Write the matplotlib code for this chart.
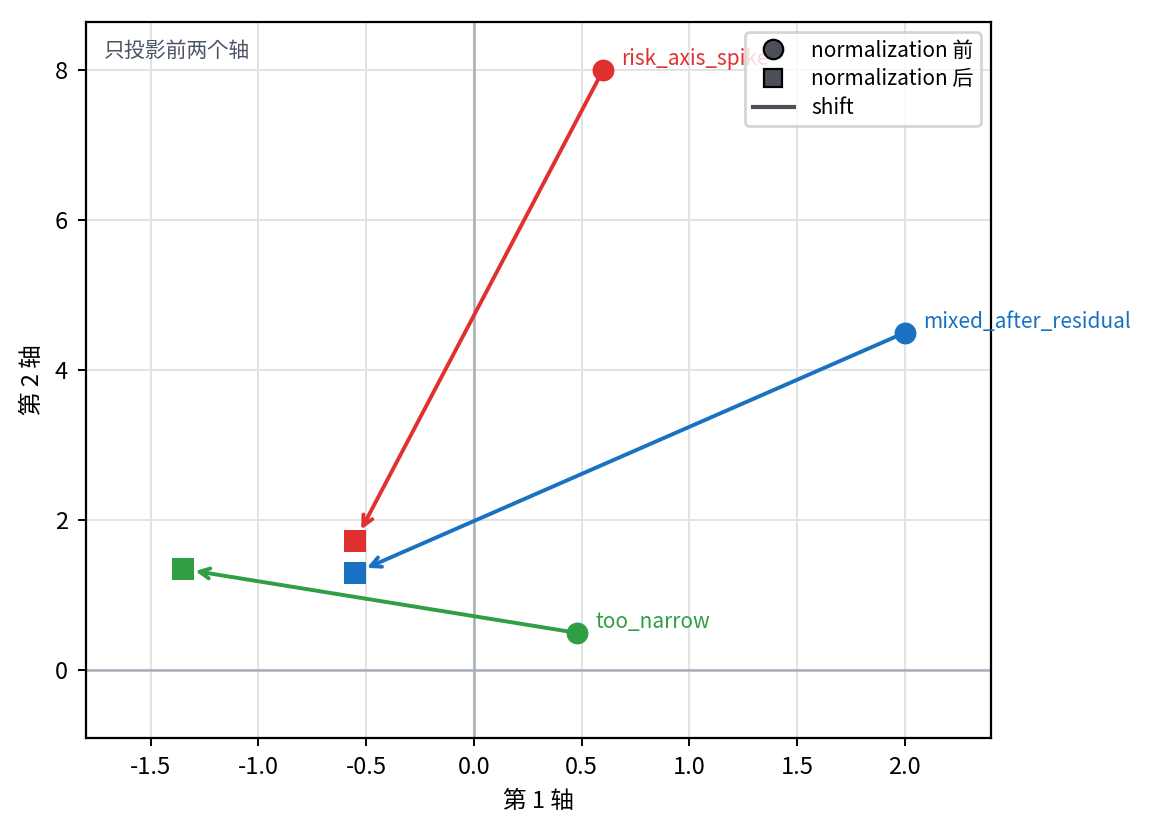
import matplotlib
matplotlib.use("Agg")
import matplotlib.pyplot as plt
from matplotlib.lines import Line2D

plt.rcParams['font.family'] = ['Noto Sans CJK JP', 'DejaVu Sans']
plt.rcParams['axes.unicode_minus'] = False

names = ["risk_axis_spike", "mixed_after_residual", "too_narrow"]
colors = ["#e03131", "#1971c2", "#2f9e44"]
before_x = [0.60, 2.00, 0.48]
before_y = [8.00, 4.50, 0.50]
after_x = [-0.55, -0.55, -1.35]
after_y = [1.73, 1.30, 1.35]

fig = plt.figure(figsize=(5.76, 4.16), dpi=200)
ax = fig.add_axes([0.0747, 0.113, 0.7855, 0.8606])

ax.grid(True, color="#e3e3e3", linewidth=0.7)
ax.axhline(0, color="#a7b0bb", linewidth=0.9, zorder=2)
ax.axvline(0, color="#a7b0bb", linewidth=0.9, zorder=2)

for n, c, bx, by, axx, ayy in zip(names, colors, before_x, before_y, after_x, after_y):
    ax.annotate("", xy=(axx, ayy), xytext=(bx, by),
                arrowprops=dict(arrowstyle="->", color=c, lw=1.4,
                                shrinkA=0, shrinkB=4.5, mutation_scale=9),
                zorder=3)
    ax.scatter([bx], [by], s=62, marker="o", color=c, zorder=4, linewidths=0)
    ax.scatter([axx], [ayy], s=58, marker="s", color=c, zorder=4, linewidths=0)
    ax.annotate(n, xy=(bx, by), xytext=(6.5, 4), textcoords="offset points",
                color=c, fontsize=7.5, ha="left", va="center", zorder=4)

ax.set_xlim(-1.8, 2.4)
ax.set_ylim(-0.9, 8.64)
ax.set_xticks([-1.5, -1.0, -0.5, 0.0, 0.5, 1.0, 1.5, 2.0])
ax.set_yticks([0, 2, 4, 6, 8])
ax.tick_params(labelsize=8.5, width=0.7, length=3)
for s in ax.spines.values():
    s.set_linewidth(0.8)
ax.set_xlabel("第 1 轴", fontsize=8.5)
ax.set_ylabel("第 2 轴", fontsize=8.5)

ax.text(0.02, 0.975, "只投影前两个轴", transform=ax.transAxes, ha="left", va="top",
        fontsize=7.5, color="#4b5563")

handles = [
    Line2D([], [], marker="o", linestyle="none", markerfacecolor="#4b5058",
           markeredgecolor="black", markersize=7, markeredgewidth=0.8),
    Line2D([], [], marker="s", linestyle="none", markerfacecolor="#4b5058",
           markeredgecolor="black", markersize=6.5, markeredgewidth=0.8),
    Line2D([], [], color="#4b5058", linewidth=1.5),
]
leg = ax.legend(handles, ["normalization 前", "normalization 后", "shift"],
                loc="upper right", fontsize=7.5, framealpha=0.82,
                borderaxespad=0.5, handlelength=2.0, labelspacing=0.32,
                borderpad=0.35)
leg.set_zorder(10)

fig.savefig("out.png", dpi=200)
